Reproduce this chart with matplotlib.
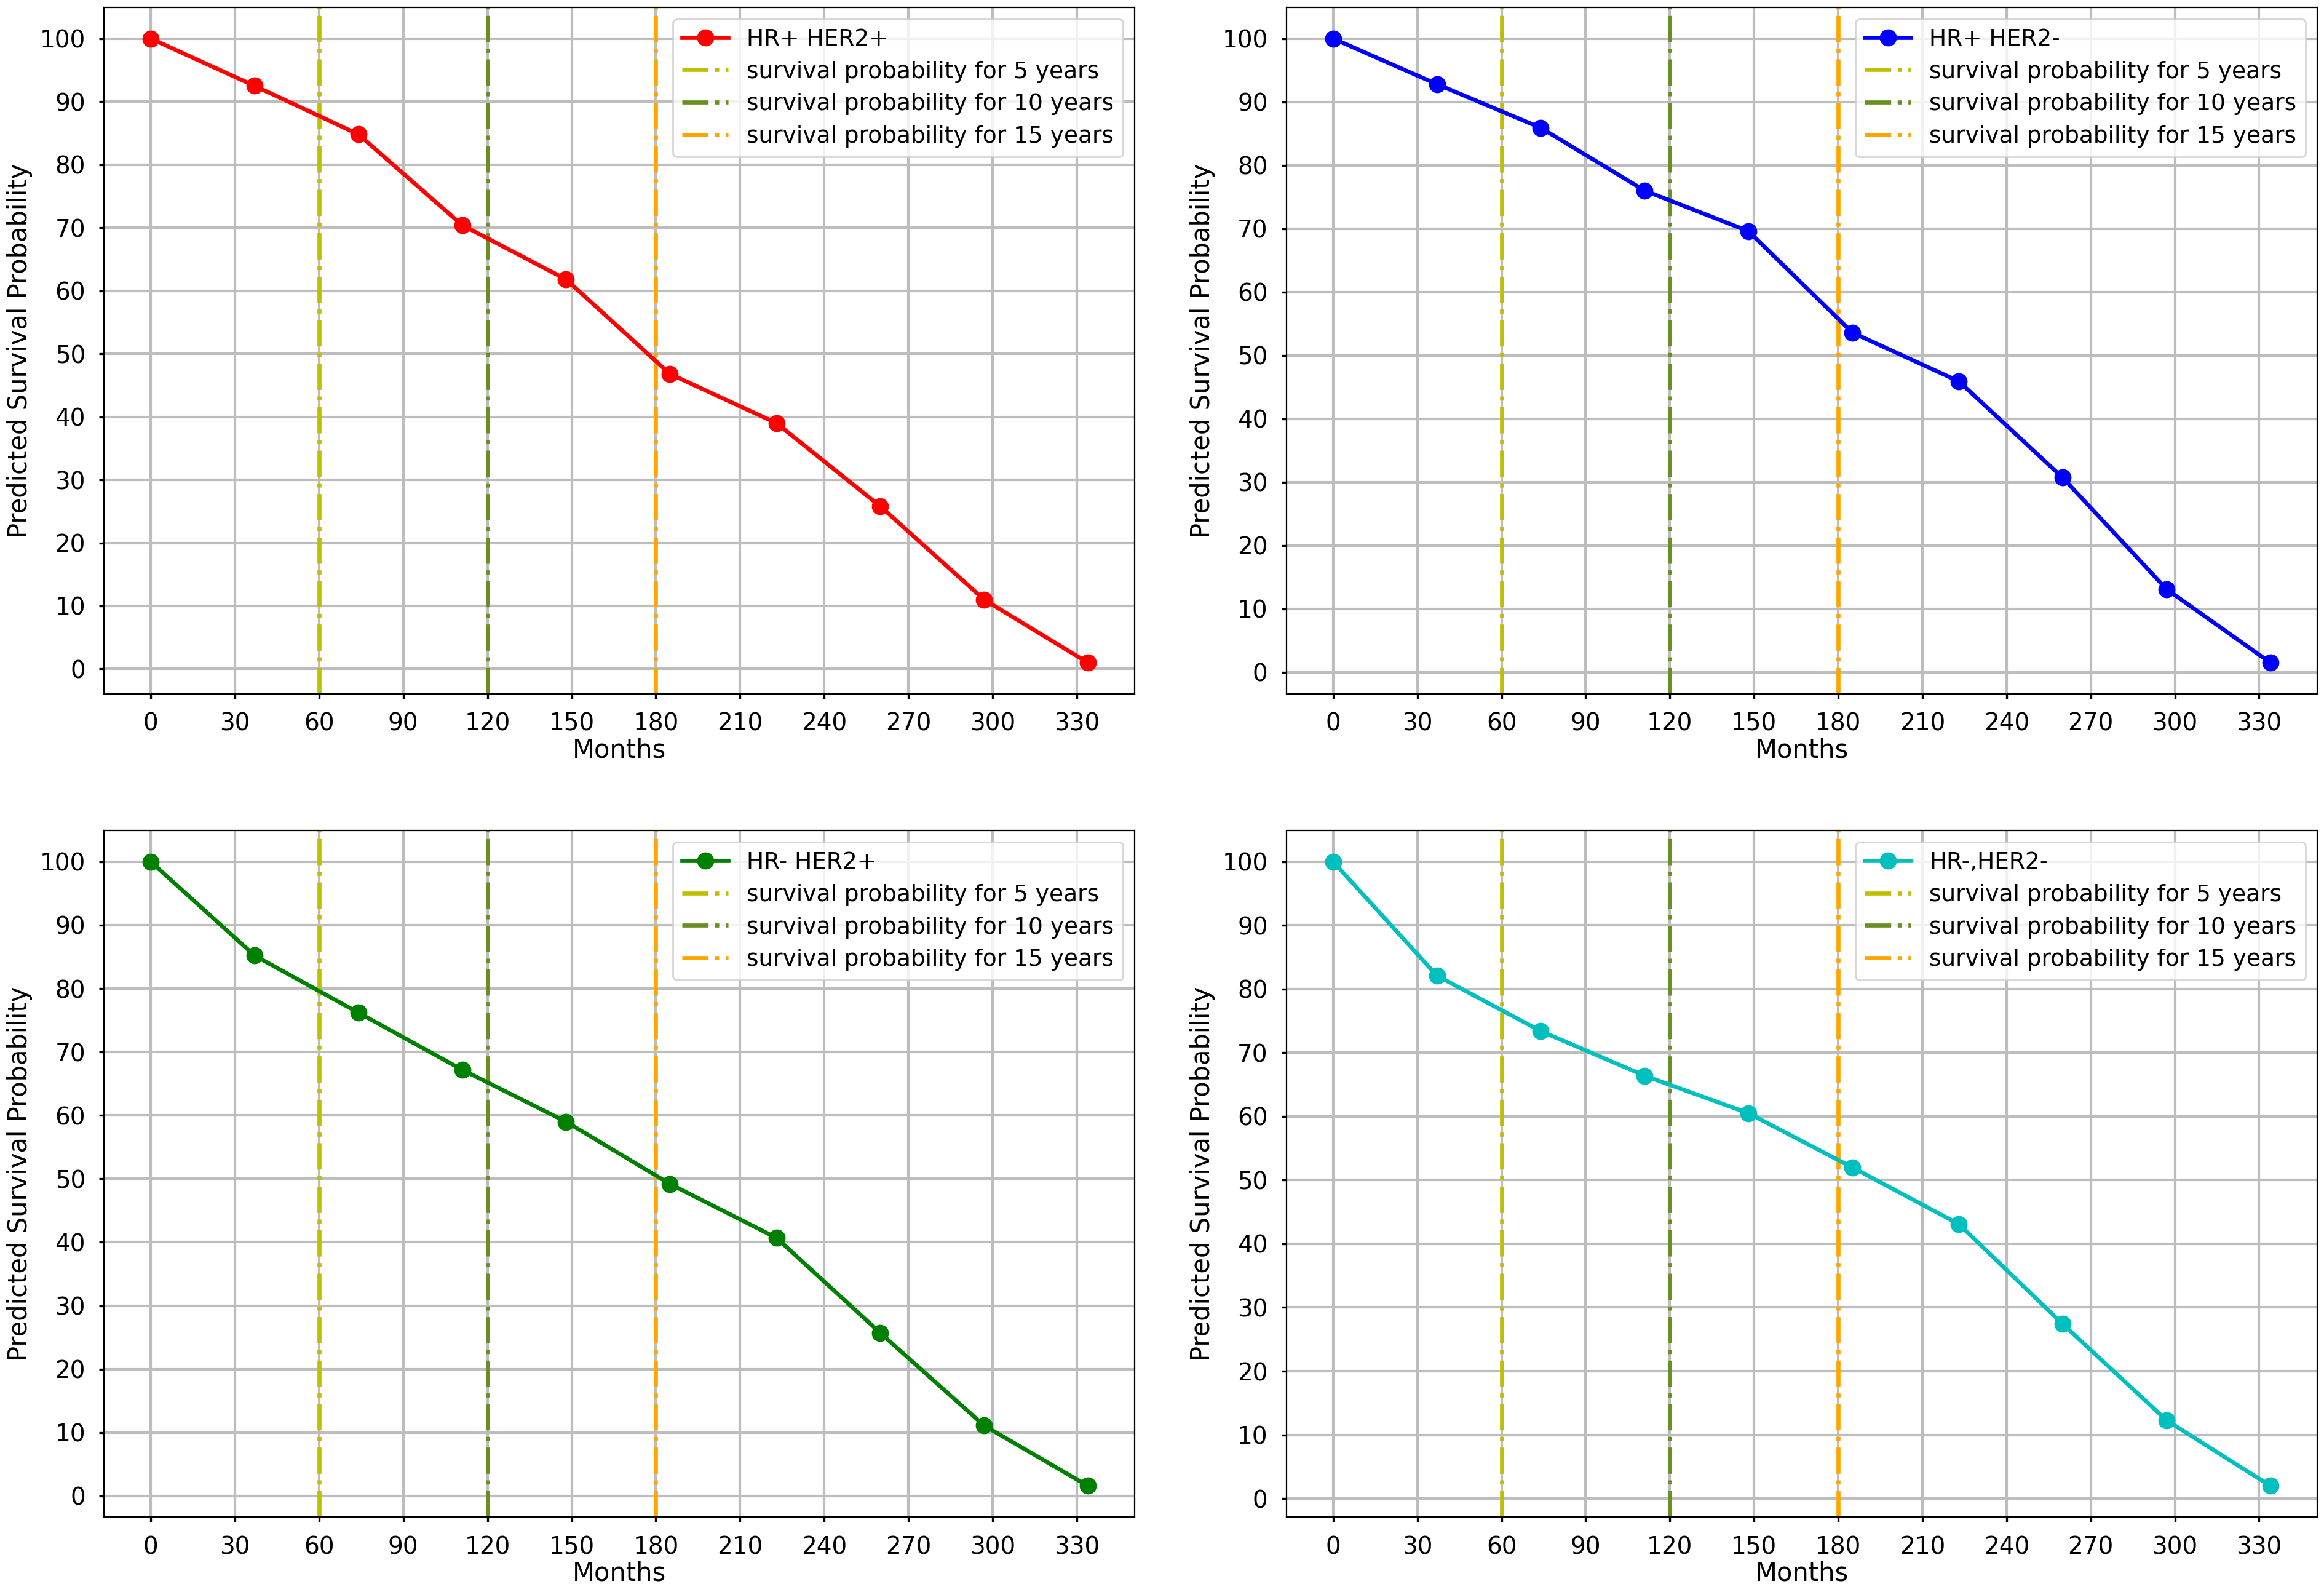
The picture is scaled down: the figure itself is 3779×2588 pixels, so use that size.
import matplotlib
matplotlib.use("Agg")
import matplotlib.pyplot as plt

# months at which the survival probability was predicted
months = [0, 37, 74, 111, 148, 185, 223, 260, 297, 334]

# predicted survival probability (%) per subtype
hr_pos_her2_pos = [100, 92.5, 84.8, 70.4, 61.8, 46.8, 39.0, 25.8, 11.0, 1.0]
hr_pos_her2_neg = [100, 92.8, 85.9, 76.0, 69.6, 53.6, 45.9, 30.7, 13.1, 1.5]
hr_neg_her2_pos = [100, 85.2, 76.2, 67.2, 59.0, 49.2, 40.7, 25.7, 11.1, 1.6]
hr_neg_her2_neg = [100, 82.1, 73.4, 66.4, 60.5, 52.0, 43.1, 27.4, 12.3, 2.0]

labels = ["HR+ HER2+", "HR+ HER2-", "HR- HER2+", "HR-,HER2-"]
colors = ["r", "b", "g", "c"]
series = [hr_pos_her2_pos, hr_pos_her2_neg, hr_neg_her2_pos, hr_neg_her2_neg]

# reference lines (months) for 5, 10 and 15 years
ref_months = [60, 120, 180]
ref_labels = ["survival probability for 5 years",
              "survival probability for 10 years",
              "survival probability for 15 years"]
ref_colors = ["y", "olivedrab", "orange"]

x_ticks = list(range(0, 331, 30))
y_ticks = list(range(0, 101, 10))

plt.rcParams["font.size"] = 14

fig, axes = plt.subplots(2, 2, figsize=(18.9, 12.94), dpi=200)
fig.subplots_adjust(left=0.0447, right=0.9968, top=0.9954, bottom=0.0471,
                    wspace=0.147, hspace=0.199)

for ax, y, lab, col in zip(axes.flat, series, labels, colors):
    ax.plot(months, y, marker="o", color=col, linewidth=2.4, markersize=9,
            label=lab, zorder=3)
    for m, rl, rc in zip(ref_months, ref_labels, ref_colors):
        ax.axvline(m, color=rc, linewidth=2.4, linestyle="-.", label=rl, zorder=2)
    ax.set_xticks(x_ticks)
    ax.set_yticks(y_ticks)
    ax.tick_params(width=1.2, length=2.8, pad=8)
    ax.grid(True, color="#bdbdbd", linewidth=1.5)
    ax.set_axisbelow(True)
    ax.set_xlabel("Months", fontsize=15, labelpad=1)
    ax.set_ylabel("Predicted Survival Probability", fontsize=15)
    ax.legend(loc="upper right", fontsize=13.5, labelspacing=0.45)

fig.savefig("out.png")
